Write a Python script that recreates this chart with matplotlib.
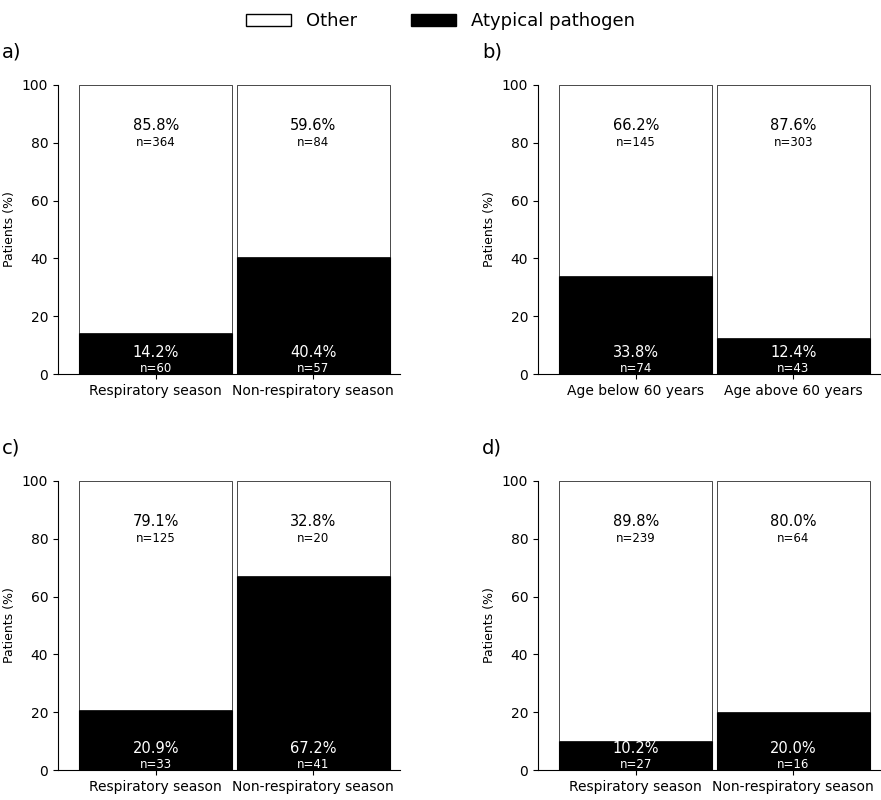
import matplotlib
matplotlib.use("Agg")
import matplotlib.pyplot as plt

panel_labels = ["a)", "b)", "c)", "d)"]
categories = [["Respiratory season", "Non-respiratory season"],
              ["Age below 60 years", "Age above 60 years"],
              ["Respiratory season", "Non-respiratory season"],
              ["Respiratory season", "Non-respiratory season"]]
atypical_pct = [[14.2, 40.4], [33.8, 12.4], [20.9, 67.2], [10.2, 20.0]]
atypical_n = [[60, 57], [74, 43], [33, 41], [27, 16]]
other_pct = [[85.8, 59.6], [66.2, 87.6], [79.1, 32.8], [89.8, 80.0]]
other_n = [[364, 84], [145, 303], [125, 20], [239, 64]]

fig = plt.figure(figsize=(8.81, 8), dpi=100)
W, H = 881, 800
boxes = [(58, 374), (538, 374), (58, 770), (538, 770)]
for i, (x0, y0) in enumerate(boxes):
    ax = fig.add_axes([x0 / W, (H - y0) / H, 342 / W, 289 / H])
    xs = [0, 1]
    ax.bar(xs, atypical_pct[i], width=0.97, color="black", edgecolor="black", linewidth=0.8)
    ax.bar(xs, other_pct[i], bottom=atypical_pct[i], width=0.97, color="white",
           edgecolor="black", linewidth=0.5)
    for j in xs:
        ax.text(j, 86, f"{other_pct[i][j]:.1f}%", ha="center", va="center", fontsize=10.5)
        ax.text(j, 80, f"n={other_n[i][j]}", ha="center", va="center", fontsize=8.5)
        ax.text(j, 7.5, f"{atypical_pct[i][j]:.1f}%", ha="center", va="center", fontsize=10.5, color="white")
        ax.text(j, 1.8, f"n={atypical_n[i][j]}", ha="center", va="center", fontsize=8.5, color="white")
    ax.set_xlim(-0.62, 1.55)
    ax.set_ylim(0, 100)
    ax.set_yticks([0, 20, 40, 60, 80, 100])
    ax.set_xticks(xs)
    ax.set_xticklabels(categories[i], fontsize=10)
    ax.tick_params(axis="y", labelsize=10)
    ax.set_ylabel("Patients (%)", fontsize=9)
    for s in ["top", "right"]:
        ax.spines[s].set_visible(False)
    fig.text((x0 - 58) / W + 0.002, (H - (y0 - 322)) / H, panel_labels[i], fontsize=14, va="center")

from matplotlib.patches import Patch
fig.legend(handles=[Patch(facecolor="white", edgecolor="black", label="Other"),
                    Patch(facecolor="black", edgecolor="black", label="Atypical pathogen")],
           loc="upper center", bbox_to_anchor=(0.5, 1.005), ncol=2, frameon=False, fontsize=13,
           handlelength=2.5, columnspacing=3)
fig.savefig("out.png", dpi=100)
